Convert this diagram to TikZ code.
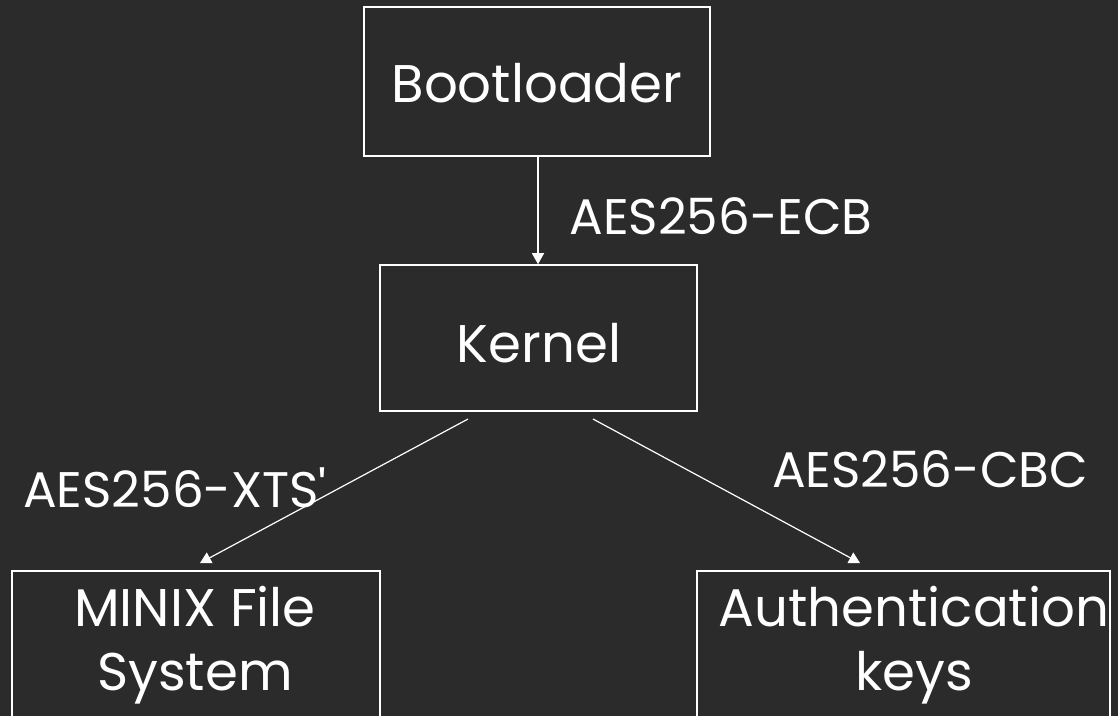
\documentclass[tikz,border=0pt]{standalone}
\usepackage{fontspec}
\setmainfont{Poppins}[Ligatures=TeXOff]
\usetikzlibrary{arrows.meta}
\definecolor{bg}{HTML}{2B2B2B}
\begin{document}
\begin{tikzpicture}[x=1pt,y=-1pt,
  box/.style={draw=white,line width=1.6pt,inner sep=0pt},
  txt/.style={text=white,font=\fontsize{53}{64}\selectfont,inner sep=0pt,align=center},
  lbl/.style={txt,font=\fontsize{50}{60}\selectfont},
  conn/.style={draw=white,line width=1.2pt,-{Triangle[length=11pt,width=12pt]}}]
\fill[bg] (0,0) rectangle (1118,716);
\useasboundingbox (0,0) rectangle (1118,716);
\node[box,minimum width=346pt,minimum height=149pt] (boot) at (537,81.5) {};
\node[box,minimum width=317pt,minimum height=146pt] (kern) at (538.5,338) {};
\node[box,minimum width=368pt,minimum height=200pt] (minix) at (196,671) {};
\node[box,minimum width=413pt,minimum height=200pt] (auth) at (903.5,671) {};
\node[txt] (tboot) at (537,83) {Bootloader};
\node[txt] (tkern) at (539,343) {Kernel};
\node[txt] (tminix) at (195,645) {MINIX File\\System};
\node[txt] (tauth) at (914,645) {Authentication\\keys};
\node[lbl] (lecb) at (721,216) {AES256-ECB};
\node[lbl] (lxts) at (175,488) {AES256-XTS'};
\node[lbl] (lcbc) at (930,469) {AES256-CBC};
\coordinate (k1) at (468,419);
\coordinate (k2) at (593,419);
\coordinate (m1) at (200,563);
\coordinate (a1) at (860,563);
\draw[conn] (boot.south -| 538,0) -- (kern.north -| 538,0);
\draw[conn] (k1) -- (m1);
\draw[conn] (k2) -- (a1);
\end{tikzpicture}
\end{document}
